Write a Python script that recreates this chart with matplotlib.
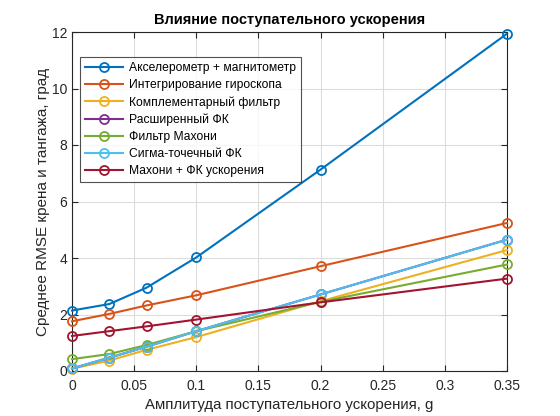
import matplotlib
matplotlib.use("Agg")
import matplotlib.pyplot as plt

plt.rcParams['font.family'] = ['Liberation Sans', 'DejaVu Sans']

amplitudes = [0, 0.03, 0.06, 0.1, 0.2, 0.35]
labels = ["Акселерометр + магнитометр", "Интегрирование гироскопа",
          "Комплементарный фильтр", "Расширенный ФК", "Фильтр Махони",
          "Сигма-точечный ФК", "Махони + ФК ускорения"]
acc_mag = [2.14, 2.37, 2.95, 4.02, 7.13, 11.94]
gyro_int = [1.76, 2.02, 2.32, 2.68, 3.71, 5.24]
compl = [0.08, 0.37, 0.75, 1.20, 2.47, 4.28]
ekf = [0.09, 0.47, 0.86, 1.41, 2.71, 4.65]
mahony = [0.42, 0.60, 0.92, 1.41, 2.45, 3.77]
ukf = [0.09, 0.47, 0.86, 1.41, 2.71, 4.65]
mahony_kf = [1.24, 1.41, 1.58, 1.82, 2.43, 3.27]
series = [acc_mag, gyro_int, compl, ekf, mahony, ukf, mahony_kf]
colors = ["#0072BD", "#D95319", "#EDB120", "#7E2F8E", "#77AC30", "#4DBEEE", "#A2142F"]

xticks = [0, 0.05, 0.1, 0.15, 0.2, 0.25, 0.3, 0.35]
xticklabels = ["0", "0.05", "0.1", "0.15", "0.2", "0.25", "0.3", "0.35"]
yticks = [0, 2, 4, 6, 8, 10, 12]

fig = plt.figure(figsize=(5.6, 4.16), dpi=100)
ax = fig.add_axes([72/560, 1-371/416, 435/560, 339/416])

for vals, lab, c in zip(series, labels, colors):
    ax.plot(amplitudes, vals, '-o', color=c, lw=1.5, ms=6.5, mfc='none', mew=1.3,
            label=lab, clip_on=False, zorder=3)

ax.set_xlim(0, 0.35)
ax.set_ylim(0, 12)
ax.set_xticks(xticks)
ax.set_xticklabels(xticklabels)
ax.set_yticks(yticks)
ax.grid(True, color='#dcdcdc', lw=0.8)
ax.set_axisbelow(True)
ax.tick_params(direction='in', length=4, labelsize=10, colors='#262626', top=True, right=True)
ax.tick_params(axis='x', pad=6)
for s in ax.spines.values():
    s.set_color('#262626')
    s.set_linewidth(0.8)

ax.set_title("Влияние поступательного ускорения", fontsize=10.5, fontweight='bold', pad=6)
ax.set_xlabel("Амплитуда поступательного ускорения, g", fontsize=10.8, color='#262626', labelpad=3)
ax.set_ylabel("Среднее RMSE крена и тангажа, град", fontsize=11, color='#262626', labelpad=1)

leg = ax.legend(loc='upper left', bbox_to_anchor=(0.018, 0.926), borderaxespad=0,
                fontsize=8.7, frameon=True, fancybox=False, edgecolor='#262626',
                handlelength=3.2, labelspacing=0.42, borderpad=0.4, handletextpad=0.5)
leg.get_frame().set_linewidth(0.8)
leg.set_zorder(5)

fig.savefig("out.png", dpi=100)
